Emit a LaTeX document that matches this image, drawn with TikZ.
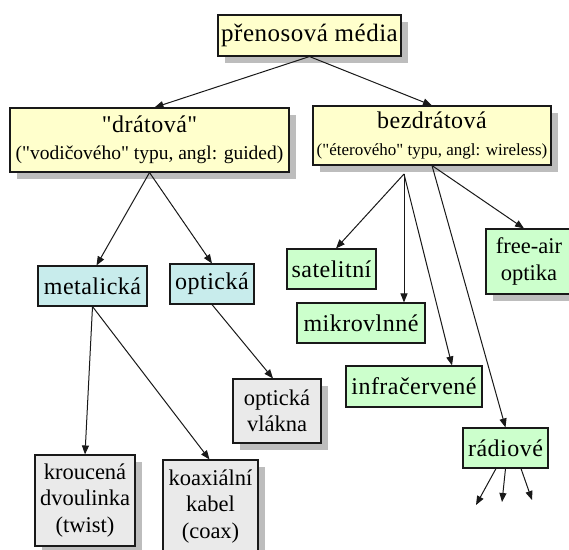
\documentclass[tikz,border=0pt]{standalone}
\usepackage{fontspec}
\setmainfont{Liberation Serif}[Ligatures=TeXOff]
\newfontfamily\spacedfont{Liberation Serif}[Ligatures=TeXOff, LetterSpace=2]
\usetikzlibrary{arrows.meta, shadows}

\definecolor{mediayellow}{RGB}{255,255,204}
\definecolor{mediacyan}{RGB}{200,236,236}
\definecolor{mediagreen}{RGB}{204,255,204}
\definecolor{mediagray}{RGB}{234,234,234}

\begin{document}
\begin{tikzpicture}[
          x=1pt, y=-1pt,
          mediabox/.style={rectangle, draw=black!90, line width=1.1pt, inner sep=0pt, align=center,
            font=\spacedfont\fontsize{24}{27}\selectfont},
          shadowed/.style={drop shadow={shadow xshift=7pt, shadow yshift=-7pt, fill=black!26, opacity=1}},
          plaintext/.style={font=\rmfamily\fontsize{22.5}{26.5}\selectfont},
          headbox/.style={mediabox, shadowed, fill=mediayellow},
          kindbox/.style={mediabox, fill=mediacyan},
          cablebox/.style={mediabox, shadowed, plaintext, fill=mediagray},
          wavebox/.style={mediabox, fill=mediagreen},
          link/.style={-{Triangle[length=9pt, width=7pt]}, line width=1pt, black!90}
        ]
          \useasboundingbox[fill=white] (0,0) rectangle (569,549);

          \node[headbox, minimum width=183pt, minimum height=41pt] (media) at (309.5,35.5)
            {\fontsize{25}{27}\selectfont přenosová média};
          \node[headbox, minimum width=279pt, minimum height=64pt] (wired) at (149.5,140)
            {"drátová"\\{\rmfamily\fontsize{19.5}{22}\selectfont ("vodičového" typu, angl: guided)}};
          \node[headbox, minimum width=238pt, minimum height=59pt] (wireless) at (432,135.5)
            {bezdrátová\\{\rmfamily\fontsize{17}{20}\selectfont ("éterového" typu, angl: wireless)}};

          \node[kindbox, minimum width=109pt, minimum height=40pt] (metal) at (92.5,286) {metalická};
          \node[kindbox, minimum width=84pt, minimum height=40pt] (optic) at (212,284) {optická};

          \node[cablebox, minimum width=88pt, minimum height=64pt] (fiber) at (277,411) {optická\\vlákna};
          \node[cablebox, minimum width=100pt, minimum height=91pt] (twist) at (85,500.5) {kroucená\\dvoulinka\\(twist)};
          \node[cablebox, minimum width=95pt, minimum height=93pt] (coax) at (210.5,506.5) {koaxiální\\kabel\\(coax)};

          \node[wavebox, minimum width=89pt, minimum height=40pt] (sat) at (331.5,269) {satelitní};
          \node[wavebox, minimum width=128pt, minimum height=40pt] (micro) at (361,323) {mikrovlnné};
          \node[wavebox, minimum width=136pt, minimum height=41pt] (ir) at (414,386.5) {infračervené};
          \node[wavebox, minimum width=85pt, minimum height=40pt] (radio) at (505.5,448) {rádiové};
          \node[wavebox, shadowed, plaintext, minimum width=86pt, minimum height=65pt] (fso) at (529,261.5) {free-air\\optika};

          \draw[link] (media.south) -- ([xshift=5pt]wired.north);
          \draw[link] (media.south) -- (wireless.north);
          \draw[link] (wired.south) -- ([xshift=4pt]metal.north);
          \draw[link] (wired.south) -- (optic.north);
          \draw[link] (metal.south) -- (twist.north);
          \draw[link] (metal.south) -- ([xshift=-1pt]coax.north);
          \draw[link] (optic.south) -- ([xshift=-4pt]fiber.north);

          \coordinate (fan) at (404,174);
          \draw[link] (fan) -- ([xshift=4.5pt]sat.north);
          \draw[link] (fan) -- (fan |- micro.north);
          \draw[link] (fan) -- ([xshift=38pt]ir.north);
          \draw[link] (wireless.south) -- (radio.north);
          \draw[link] (wireless.south) -- ([xshift=-5pt]fso.north);

          \coordinate (band1) at (476,505);
          \coordinate (band2) at (502,502);
          \coordinate (band3) at (532,500);
          \draw[link] ([xshift=-9.5pt]radio.south) -- (band1);
          \draw[link] (radio.south) -- (band2);
          \draw[link] ([xshift=15.5pt]radio.south) -- (band3);
        \end{tikzpicture}
\end{document}
